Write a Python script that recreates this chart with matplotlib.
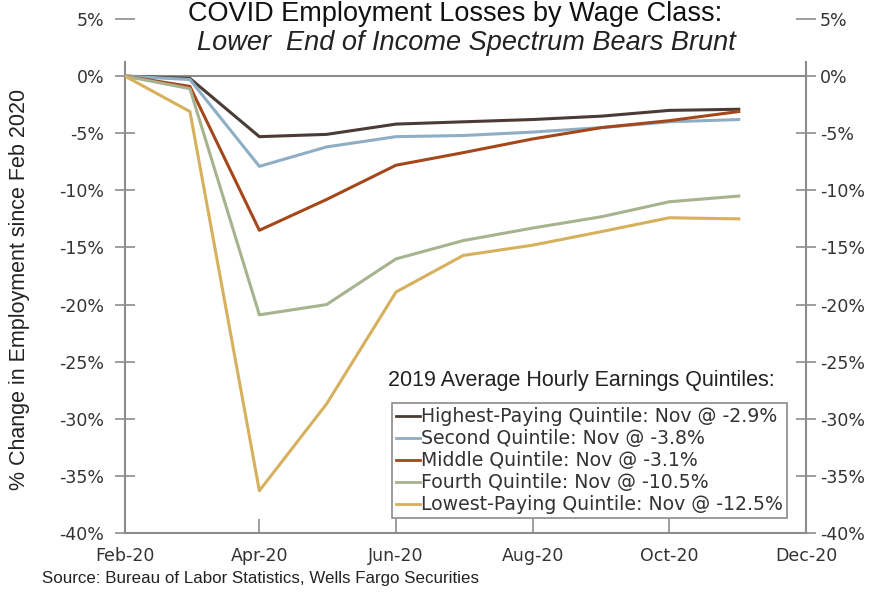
import numpy as np
import matplotlib.pyplot as plt
import matplotlib.dates as mdates
from matplotlib.lines import Line2D

# monthly observations, Feb-20 through Nov-20
months = np.arange('2020-02', '2020-12', dtype='datetime64[M]').astype('datetime64[D]')

highest = [0.0, -0.2, -5.3, -5.1, -4.2, -4.0, -3.8, -3.5, -3.0, -2.9]
second = [0.0, -0.3, -7.9, -6.2, -5.3, -5.2, -4.9, -4.5, -4.0, -3.8]
middle = [0.0, -0.9, -13.5, -10.8, -7.8, -6.7, -5.5, -4.5, -3.9, -3.1]
fourth = [0.0, -1.1, -20.9, -20.0, -16.0, -14.4, -13.3, -12.3, -11.0, -10.5]
lowest = [0.0, -3.1, -36.3, -28.7, -18.9, -15.7, -14.8, -13.6, -12.4, -12.5]

series = [highest, second, middle, fourth, lowest]
labels = ['Highest-Paying Quintile: Nov @ -2.9%',
          'Second Quintile: Nov @ -3.8%',
          'Middle Quintile: Nov @ -3.1%',
          'Fourth Quintile: Nov @ -10.5%',
          'Lowest-Paying Quintile: Nov @ -12.5%']
colors = ['#4b3b35', '#8eaec6', '#a4481c', '#a7b28e', '#d6b05c']

yticks = np.arange(-40, 6, 5)
xtick_dates = np.arange('2020-02', '2021-01', 2, dtype='datetime64[M]').astype('datetime64[D]')

arial = 'Liberation Sans'

fig = plt.figure(figsize=(8.85, 5.96), dpi=100)
ax = fig.add_axes([0.1412, 0.1057, 0.7695, 0.8624])

for vals, lab, c in zip(series, labels, colors):
    ax.plot(months, vals, color=c, lw=2.2, label=lab, zorder=3)

ax.axhline(0, color='#8c8c8c', lw=1.5, zorder=2)

ax.set_ylim(-40, 5)
ax.set_xlim(np.datetime64('2020-02-01'), np.datetime64('2020-12-01'))
ax.set_yticks(yticks)
ax.set_yticklabels([f'{t}%' for t in yticks], fontsize=12.5, color='#333333')
ax.set_xticks(xtick_dates)
ax.xaxis.set_major_formatter(mdates.DateFormatter('%b-%y'))
for t in ax.get_xticklabels():
    t.set_fontsize(12.5)
    t.set_color('#333333')
ax.tick_params(axis='y', direction='inout', length=14, width=1.2, color='#8c8c8c', pad=8)
ax.tick_params(axis='x', direction='in', length=10, width=1.2, color='#8c8c8c', pad=10)

for side in ['top', 'right']:
    ax.spines[side].set_visible(False)
for side in ['left', 'bottom']:
    ax.spines[side].set_color('#8c8c8c')
    ax.spines[side].set_linewidth(1.5)
ax.spines['left'].set_bounds(-40, 1.2)

ax2 = ax.twinx()
ax2.set_ylim(-40, 5)
ax2.set_yticks(yticks)
ax2.set_yticklabels([f'{t}%' for t in yticks], fontsize=12.5, color='#333333')
ax2.tick_params(axis='y', direction='inout', length=14, width=1.2, color='#8c8c8c', pad=3)
for side in ['top', 'left', 'bottom']:
    ax2.spines[side].set_visible(False)
ax2.spines['right'].set_color('#8c8c8c')
ax2.spines['right'].set_linewidth(1.5)
ax2.spines['right'].set_bounds(-40, 1.2)

ax.set_ylabel('% Change in Employment since Feb 2020', fontsize=15.5,
              family=arial, color='#222222')
ax.yaxis.set_label_coords(-0.14, 0.473)

handles = [Line2D([], [], color=c, lw=2) for c in colors]
leg = ax.legend(handles, labels, loc='lower right', bbox_to_anchor=(0.972, 0.029),
                fontsize=13.6, frameon=True, fancybox=False, handlelength=1.3,
                handletextpad=0.05, labelspacing=0.16, borderpad=0.2,
                borderaxespad=0)
leg.get_frame().set_edgecolor('#6e6e6e')
leg.get_frame().set_linewidth(1.2)
for t in leg.get_texts():
    t.set_color('#333333')

fig.text(0.657, 0.362, '2019 Average Hourly Earnings Quintiles:', ha='center', va='center',
         fontsize=15.5, family=arial, color='#222222')

fig.text(0.514, 0.999, 'COVID Employment Losses by Wage Class:', ha='center', va='top',
         fontsize=19.5, family=arial, color='#111111')
fig.text(0.527, 0.928, 'Lower  End of Income Spectrum Bears Brunt', ha='center', va='center',
         fontsize=19.5, style='italic', family=arial, color='#222222')
fig.text(0.047, 0.03, 'Source: Bureau of Labor Statistics, Wells Fargo Securities',
         ha='left', va='center', fontsize=12.2, family=arial, color='#222222')

fig.savefig('out.png', dpi=100)
